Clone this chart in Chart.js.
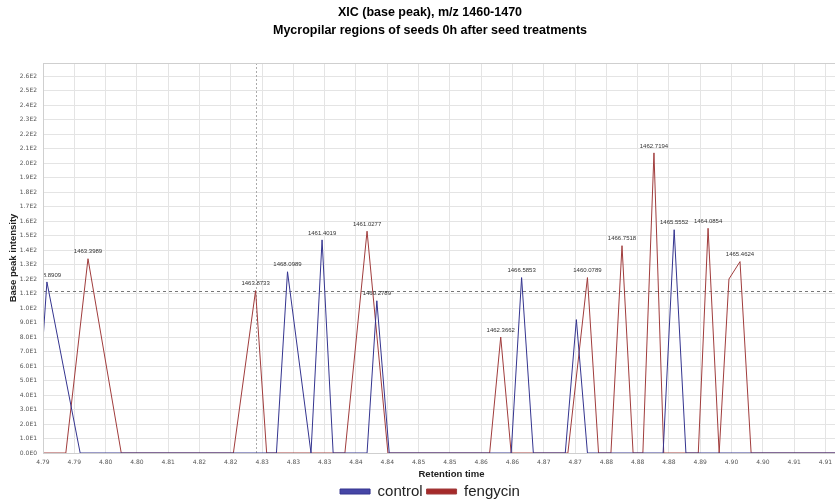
<!DOCTYPE html>
<html>
<head>
<meta charset="utf-8">
<script src="https://cdn.jsdelivr.net/npm/chart.js@4.4.1/dist/chart.umd.min.js"></script>
<style>
body { margin: 0; overflow: hidden; background: #fff; }
#wrap { position: relative; width: 880px; height: 504px; }
</style>
</head>
<body>
<div id="wrap"><canvas id="xicChart"></canvas></div>
<script>
// retention time (min) / base peak intensity
const controlTime = [4.7880, 4.7886, 4.7937, 4.8238, 4.8255, 4.8291, 4.8308, 4.8325, 4.8377, 4.8392, 4.8411,
    4.8598, 4.8614, 4.8632, 4.8681, 4.8698, 4.8715, 4.8831, 4.8848, 4.8866, 4.9300];
const controlIntensity = [78, 118, 0, 0, 125, 0, 147, 0, 0, 105, 0,
    0, 121, 0, 0, 92, 0, 0, 154, 0, 0];
const controlLabels = [null, '1468.8909', null, null, '1468.0989', null, '1461.4019', null, null, '1460.2789', null,
    null, '1466.5853', null, null, null, null, null, '1465.5552', null, null];

const fengycinTime = [4.7880, 4.7915, 4.7949, 4.8000, 4.8172, 4.8206, 4.8223, 4.8343, 4.8377, 4.8409,
    4.8565, 4.8582, 4.8598, 4.8685, 4.8715, 4.8732, 4.8751, 4.8768, 4.8785, 4.8800, 4.8817, 4.8832,
    4.8885, 4.8900, 4.8917, 4.8932, 4.8949, 4.8966, 4.9300];
const fengycinIntensity = [0, 0, 134, 0, 0, 112, 0, 0, 153, 0,
    0, 80, 0, 0, 121, 0, 0, 143, 0, 0, 207, 0,
    0, 155, 0, 120, 132, 0, 0];
const fengycinLabels = [null, null, '1463.3989', null, null, '1463.8733', null, null, '1461.0277', null,
    null, '1462.3662', null, null, '1460.0789', null, null, '1466.7518', null, null, '1462.7194', null,
    null, '1464.0854', null, null, '1465.4624', null, null];

const xTickLabels = ['4.79', '4.79', '4.80', '4.80', '4.81', '4.82', '4.82', '4.83', '4.83', '4.83', '4.84', '4.84', '4.85',
    '4.85', '4.86', '4.86', '4.87', '4.87', '4.88', '4.88', '4.88', '4.89', '4.90', '4.90', '4.91', '4.91', '4.92'];
const xTickStart = 4.788;
const xTickStep = 0.0048;
const yTickValues = [0, 10, 20, 30, 40, 50, 60, 70, 80, 90, 100, 110, 120, 130, 140, 150, 160, 170, 180, 190, 200, 210, 220, 230, 240, 250, 260];

// crosshair left on the 1463.8733 peak
const cursorTime = 4.8206;
const cursorIntensity = 112;

function sciLabel(v) {
    if (v === 0) return '0.0E0';
    const e = Math.floor(Math.log10(v));
    return (v / Math.pow(10, e)).toFixed(1) + 'E' + e;
}

function toPoints(times, values) {
    return times.map((t, i) => ({ x: t, y: values[i] }));
}

const peakLabels = {
    id: 'peakLabels',
    afterDatasetsDraw(chart) {
        const { ctx, chartArea } = chart;
        const lists = [controlLabels, fengycinLabels];
        ctx.save();
        ctx.beginPath();
        ctx.rect(chartArea.left, chartArea.top, chartArea.right - chartArea.left, chartArea.bottom - chartArea.top);
        ctx.clip();
        ctx.font = '6px "Liberation Sans", Arial, sans-serif';
        ctx.fillStyle = '#333';
        ctx.textAlign = 'center';
        ctx.textBaseline = 'bottom';
        lists.forEach((labels, d) => {
            const meta = chart.getDatasetMeta(d);
            labels.forEach((txt, i) => {
                if (!txt) return;
                const p = meta.data[i];
                ctx.fillText(txt, p.x, p.y - 4);
            });
        });
        ctx.restore();
    }
};

const crosshair = {
    id: 'crosshair',
    beforeDatasetsDraw(chart) {
        const { ctx, chartArea, scales } = chart;
        const cx = Math.round(scales.x.getPixelForValue(cursorTime)) + 0.5;
        const cy = Math.round(scales.y.getPixelForValue(cursorIntensity)) + 0.5;
        ctx.save();
        ctx.lineWidth = 1;
        ctx.strokeStyle = '#aaa';
        ctx.setLineDash([2, 2]);
        ctx.beginPath();
        ctx.moveTo(cx, chartArea.top);
        ctx.lineTo(cx, chartArea.bottom);
        ctx.stroke();
        ctx.strokeStyle = '#777';
        ctx.setLineDash([3, 3]);
        ctx.beginPath();
        ctx.moveTo(chartArea.left, cy);
        ctx.lineTo(chartArea.right, cy);
        ctx.stroke();
        ctx.restore();
    },
    afterDraw(chart) {
        const { ctx, chartArea } = chart;
        ctx.save();
        ctx.strokeStyle = '#cfcfcf';
        ctx.lineWidth = 1;
        ctx.strokeRect(Math.round(chartArea.left) + 0.5, Math.round(chartArea.top) + 0.5,
            chartArea.right - chartArea.left, chartArea.bottom - chartArea.top);
        ctx.restore();
    }
};

const tickFont = { family: '"DejaVu Sans", sans-serif', size: 6 };
const axisTitleFont = { family: '"Liberation Sans", Arial, sans-serif', size: 9.5, weight: 'bold' };

new Chart(document.getElementById('xicChart'), {
    type: 'line',
    data: {
        datasets: [{
            label: 'control',
            data: toPoints(controlTime, controlIntensity),
            borderColor: '#34348f',
            backgroundColor: '#4646a6',
            borderWidth: 1,
            pointRadius: 0,
            tension: 0
        }, {
            label: 'fengycin',
            data: toPoints(fengycinTime, fengycinIntensity),
            borderColor: '#a03c3c',
            backgroundColor: '#a52a2a',
            borderWidth: 1,
            pointRadius: 0,
            tension: 0
        }]
    },
    options: {
        responsive: true,
        maintainAspectRatio: false,
        animation: false,
        layout: { padding: { left: 0, right: 20, top: 0, bottom: -5 } },
        plugins: {
            title: {
                display: true,
                text: ['XIC (base peak), m/z 1460-1470', 'Mycropilar regions of seeds 0h after seed treatments'],
                color: '#000',
                font: { family: '"Liberation Sans", Arial, sans-serif', size: 12.5, weight: 'bold', lineHeight: 1.4 },
                padding: { top: 4, bottom: 24 }
            },
            legend: {
                position: 'bottom',
                labels: {
                    boxWidth: 30,
                    boxHeight: 5,
                    color: '#222',
                    padding: 4,
                    font: { family: '"Liberation Sans", Arial, sans-serif', size: 15 }
                }
            },
            tooltip: { enabled: false }
        },
        scales: {
            x: {
                type: 'linear',
                min: xTickStart,
                max: 4.9133,
                afterBuildTicks: (scale) => {
                    scale.ticks = xTickLabels.map((_, i) => ({ value: xTickStart + i * xTickStep }));
                },
                afterFit: (scale) => { scale.height = 27; },
                ticks: {
                    autoSkip: false,
                    maxRotation: 0,
                    padding: 6,
                    color: '#555',
                    font: tickFont,
                    callback: (value, index) => xTickLabels[index]
                },
                grid: { color: '#e4e4e4', drawTicks: false },
                border: { color: '#888' },
                title: { display: true, text: 'Retention time', color: '#222', font: axisTitleFont, padding: { top: 0, bottom: 0 } }
            },
            y: {
                type: 'linear',
                min: 0,
                max: 269,
                afterBuildTicks: (scale) => {
                    scale.ticks = yTickValues.map(v => ({ value: v }));
                },
                afterFit: (scale) => { scale.width = 43; },
                ticks: {
                    autoSkip: false,
                    padding: 6,
                    color: '#555',
                    font: tickFont,
                    callback: (value) => sciLabel(value)
                },
                grid: { color: '#e4e4e4', drawTicks: false },
                border: { color: '#999' },
                title: { display: true, text: 'Base peak intensity', color: '#222', font: axisTitleFont, padding: { top: 8, bottom: 4 } }
            }
        }
    },
    plugins: [crosshair, peakLabels]
});
</script>
</body>
</html>
